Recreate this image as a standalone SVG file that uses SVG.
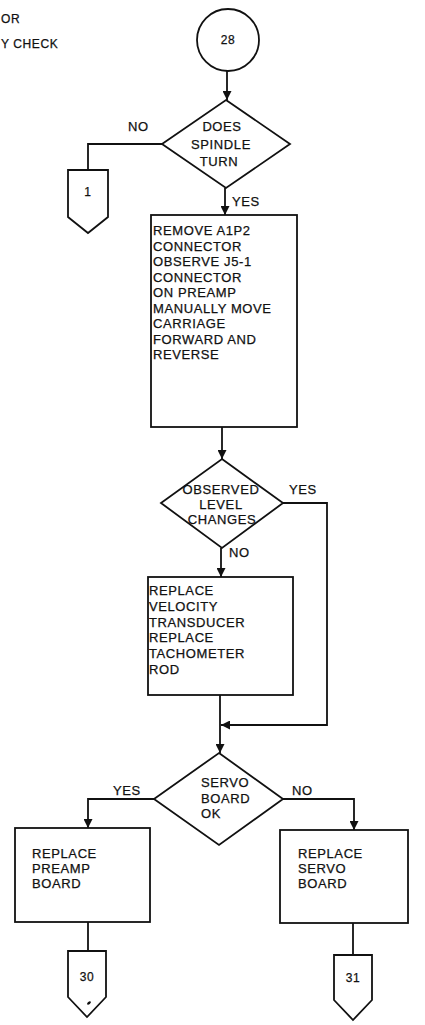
<svg xmlns="http://www.w3.org/2000/svg" width="425" height="1025" viewBox="0 0 425 1025">
<style>
text{font-family:"Liberation Sans",Arial,sans-serif;font-size:13px;fill:#111;stroke:#111;stroke-width:0.25px;letter-spacing:0.6px}
.sh{fill:#fff;stroke:#111;stroke-width:1.8}
.ln{fill:none;stroke:#111;stroke-width:1.8}
.c{text-anchor:middle}
.sm{font-size:12px}
</style>
<defs>
<marker id="ah" viewBox="0 0 10 10" refX="10" refY="5" markerWidth="9" markerHeight="9" markerUnits="userSpaceOnUse" orient="auto"><path d="M0,0 L10,5 L0,10 z" fill="#111"/></marker>
</defs>
<rect width="425" height="1025" fill="#fff"/>
<g id="header">
<text x="1" y="23" class="sm">OR</text>
<text x="1" y="48" class="sm">Y CHECK</text>
</g>
<g id="connectors">
<path class="ln" d="M227,71 V100" marker-end="url(#ah)"/>
<path class="ln" d="M225,188 V215" marker-end="url(#ah)"/>
<path class="ln" d="M162,144 H88 V170"/>
<path class="ln" d="M222,427 V459" marker-end="url(#ah)"/>
<path class="ln" d="M221,548 V577" marker-end="url(#ah)"/>
<path class="ln" d="M283,503 H327 V725 H221" marker-end="url(#ah)"/>
<path class="ln" d="M220,695 V753" marker-end="url(#ah)"/>
<path class="ln" d="M154,799 H88 V828" marker-end="url(#ah)"/>
<path class="ln" d="M283,799 H354 V830" marker-end="url(#ah)"/>
<path class="ln" d="M88,922 V951"/>
<path class="ln" d="M353,923 V955"/>
</g>
<g id="n28">
<circle class="sh" cx="228" cy="40" r="31"/>
<text x="228" y="44" class="c sm">28</text>
</g>
<g id="d1">
<polygon class="sh" points="226,100 290,144 226,188 162,144"/>
<text x="222" y="131" class="c">DOES</text>
<text x="221" y="149" class="c">SPINDLE</text>
<text x="219" y="166" class="c">TURN</text>
<text x="128" y="131">NO</text>
<text x="232" y="206">YES</text>
</g>
<g id="c1">
<polygon class="sh" points="68,170 108,170 108,217 88,233 68,217"/>
<text x="88" y="196" class="c sm">1</text>
</g>
<g id="b1">
<rect class="sh" x="151" y="215" width="146" height="212"/>
<text x="153" y="235">REMOVE A1P2</text>
<text x="153" y="250.5">CONNECTOR</text>
<text x="153" y="266">OBSERVE J5-1</text>
<text x="153" y="281.5">CONNECTOR</text>
<text x="153" y="297">ON PREAMP</text>
<text x="153" y="312.5">MANUALLY MOVE</text>
<text x="153" y="328">CARRIAGE</text>
<text x="153" y="343.5">FORWARD AND</text>
<text x="153" y="359">REVERSE</text>
</g>
<g id="d2">
<polygon class="sh" points="222,459 283,503 222,548 161,503"/>
<text x="221" y="494" class="c">OBSERVED</text>
<text x="221" y="509" class="c">LEVEL</text>
<text x="222" y="524" class="c">CHANGES</text>
<text x="289" y="494">YES</text>
<text x="229" y="557">NO</text>
</g>
<g id="b2">
<rect class="sh" x="148" y="577" width="145" height="118"/>
<text x="149" y="594.5">REPLACE</text>
<text x="149" y="610.5">VELOCITY</text>
<text x="149" y="626.5">TRANSDUCER</text>
<text x="149" y="642">REPLACE</text>
<text x="149" y="658">TACHOMETER</text>
<text x="149" y="673.5">ROD</text>
</g>
<g id="d3">
<polygon class="sh" points="219,753 283,799 219,845 154,799"/>
<text x="201" y="786.5">SERVO</text>
<text x="201" y="802.5">BOARD</text>
<text x="201" y="817.5">OK</text>
<text x="113" y="795">YES</text>
<text x="292" y="795">NO</text>
</g>
<g id="b3">
<rect class="sh" x="15" y="828" width="135" height="94"/>
<text x="32" y="857.5">REPLACE</text>
<text x="32" y="872.5">PREAMP</text>
<text x="32" y="887.5">BOARD</text>
</g>
<g id="b4">
<rect class="sh" x="280" y="830" width="128" height="93"/>
<text x="298" y="857.5">REPLACE</text>
<text x="298" y="872.5">SERVO</text>
<text x="298" y="887.5">BOARD</text>
</g>
<g id="c30">
<polygon class="sh" points="68,951 106,951 106,997 87,1017 68,997"/>
<text x="87" y="981" class="c sm">30</text>
<ellipse cx="89" cy="1003" rx="2.2" ry="1.3" transform="rotate(-40 89 1003)" fill="#111"/>
</g>
<g id="c31">
<polygon class="sh" points="334,955 372,955 372,1000 353,1020 334,1000"/>
<text x="353" y="982" class="c sm">31</text>
</g>
</svg>
